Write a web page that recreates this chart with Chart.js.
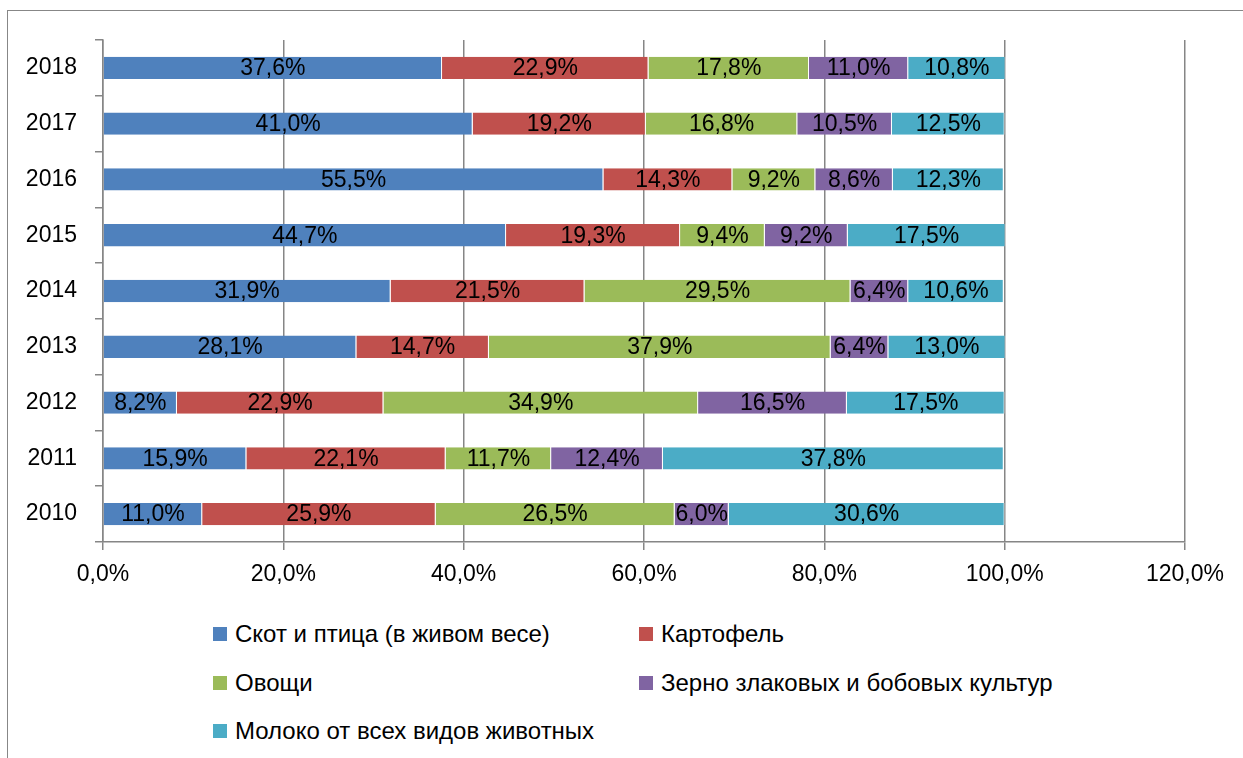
<!DOCTYPE html>
<html>
<head>
<meta charset="utf-8">
<script src="https://cdn.jsdelivr.net/npm/chart.js@4/dist/chart.umd.min.js"></script>
<style>
  body { margin: 0; background: #fff; font-family: "Liberation Sans", Arial, sans-serif; }
  #wrap { position: relative; width: 1243px; height: 758px; overflow: hidden; }
  #frame { position: absolute; left: 7px; top: 10px; width: 1300px; height: 800px;
           border-top: 1px solid #878787; border-left: 1px solid #878787; }
  #cv { position: absolute; left: 0; top: 0; }
  #legend { position: absolute; left: 0; top: 0; font-size: 24px; color: #000; }
  .item { position: absolute; white-space: nowrap; line-height: 28px; }
  .box { display: inline-block; width: 14px; height: 14px; margin-right: 8px; vertical-align: 1px; }
</style>
</head>
<body>
<div id="wrap">
  <div id="frame"></div>
  <canvas id="cv" width="1243" height="600"></canvas>
  <div id="legend"></div>
</div>
<script>
const years = ['2010', '2011', '2012', '2013', '2014', '2015', '2016', '2017', '2018'];
const seriesNames = ['Скот и птица (в живом весе)', 'Картофель', 'Овощи', 'Зерно злаковых и бобовых культур', 'Молоко от всех видов животных'];
const livestock = [11.0, 15.9, 8.2, 28.1, 31.9, 44.7, 55.5, 41.0, 37.6];
const potato    = [25.9, 22.1, 22.9, 14.7, 21.5, 19.3, 14.3, 19.2, 22.9];
const vegetables= [26.5, 11.7, 34.9, 37.9, 29.5, 9.4, 9.2, 16.8, 17.8];
const grain     = [6.0, 12.4, 16.5, 6.4, 6.4, 9.2, 8.6, 10.5, 11.0];
const milk      = [30.6, 37.8, 17.5, 13.0, 10.6, 17.5, 12.3, 12.5, 10.8];
const xTicks = [0, 20, 40, 60, 80, 100, 120];
const colors = ['#4F81BD', '#C0504D', '#9BBB59', '#8064A2', '#4BACC6'];

const fmt = v => v.toFixed(1).replace('.', ',') + '%';
const FONT = '"Liberation Sans", Arial, sans-serif';

const barLabels = {
  id: 'barLabels',
  afterDatasetsDraw(chart) {
    const c = chart.ctx;
    c.save();
    c.font = '23px ' + FONT;
    c.fillStyle = '#000';
    c.textAlign = 'center';
    c.textBaseline = 'middle';
    chart.data.datasets.forEach((ds, i) => {
      chart.getDatasetMeta(i).data.forEach((bar, j) => {
        const x = (bar.x + bar.base) / 2;
        c.fillText(fmt(ds.data[j]), x, bar.y + 1);
      });
    });
    c.restore();
  }
};

const data = [livestock, potato, vegetables, grain, milk];

const chart = new Chart(document.getElementById('cv'), {
  type: 'bar',
  data: {
    labels: years,
    datasets: seriesNames.map((name, i) => ({
      label: name,
      data: data[i],
      backgroundColor: colors[i],
      borderColor: 'rgba(255,255,255,0.55)',
      borderWidth: { left: 0, right: 1, top: 0, bottom: 0 },
      borderSkipped: false,
      barPercentage: 0.4,
      categoryPercentage: 1
    }))
  },
  options: {
    indexAxis: 'y',
    responsive: false,
    animation: false,
    layout: { padding: { top: 40, right: 58, left: 0, bottom: 0 } },
    plugins: { legend: { display: false }, tooltip: { enabled: false } },
    scales: {
      x: {
        stacked: true,
        min: 0, max: 120,
        afterBuildTicks: s => { s.ticks = xTicks.map(v => ({ value: v })); },
        afterFit: s => { s.height = 58; },
        ticks: { callback: v => v.toFixed(1).replace('.', ',') + '%', color: '#000',
                 font: { family: FONT, size: 23 }, padding: 11, maxRotation: 0 },
        grid: { color: '#868686', lineWidth: 1.5, tickLength: 8, drawTicks: true },
        border: { display: true, color: '#868686', width: 1.5 }
      },
      y: {
        stacked: true,
        reverse: true,
        afterFit: s => { s.width = 103; },
        ticks: { color: '#000', font: { family: FONT, size: 23 }, padding: 18 },
        grid: { drawOnChartArea: false, offset: true, tickLength: 8, color: '#868686', lineWidth: 1.5 },
        border: { display: true, color: '#868686', width: 1.5 }
      }
    }
  },
  plugins: [barLabels]
});

// legend in two columns, built from the chart datasets
const pos = [[213, 620], [639, 620], [213, 669], [639, 669], [213, 717]];
const lg = document.getElementById('legend');
chart.data.datasets.forEach((ds, i) => {
  const d = document.createElement('div');
  d.className = 'item';
  d.style.left = pos[i][0] + 'px';
  d.style.top = pos[i][1] + 'px';
  d.innerHTML = '<span class="box" style="background:' + ds.backgroundColor + '"></span>' + ds.label;
  lg.appendChild(d);
});
</script>
</body>
</html>
